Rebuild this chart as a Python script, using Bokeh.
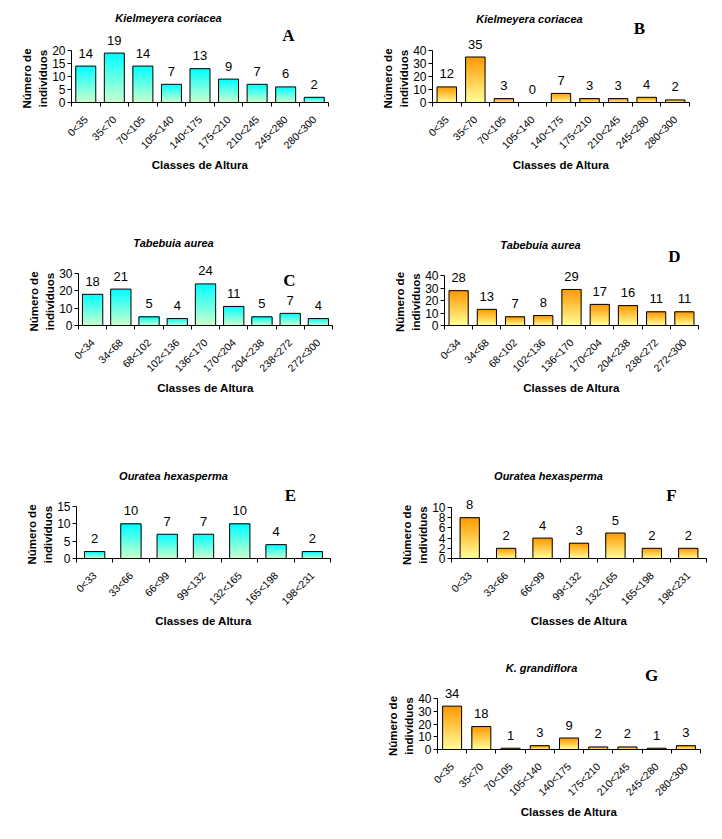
import numpy as np
from bokeh.plotting import figure
from bokeh.models import FixedTicker, ColumnDataSource, LabelSet, Label, Range1d, Spacer, Title
from bokeh.layouts import column, row
from bokeh.core.properties import value
from bokeh.embed import file_html
from bokeh.resources import INLINE

# ---------------- data ----------------
classes_35 = ["0<35", "35<70", "70<105", "105<140", "140<175", "175<210", "210<245", "245<280", "280<300"]
classes_34 = ["0<34", "34<68", "68<102", "102<136", "136<170", "170<204", "204<238", "238<272", "272<300"]
classes_33 = ["0<33", "33<66", "66<99", "99<132", "132<165", "165<198", "198<231"]

vals_A = [14, 19, 14, 7, 13, 9, 7, 6, 2]
vals_B = [12, 35, 3, 0, 7, 3, 3, 4, 2]
vals_C = [18, 21, 5, 4, 24, 11, 5, 7, 4]
vals_D = [28, 13, 7, 8, 29, 17, 16, 11, 11]
vals_E = [2, 10, 7, 7, 10, 4, 2]
vals_F = [8, 2, 4, 3, 5, 2, 2]
vals_G = [34, 18, 1, 3, 9, 2, 2, 1, 3]

yticks_A = [0, 5, 10, 15, 20]
yticks_B = [0, 10, 20, 30, 40]
yticks_C = [0, 10, 20, 30]
yticks_D = [0, 10, 20, 30, 40]
yticks_E = [0, 5, 10, 15]
yticks_F = [0, 2, 4, 6, 8, 10]
yticks_G = [0, 10, 20, 30, 40]

title_K = "Kielmeyera coriacea"
title_T = "Tabebuia aurea"
title_O = "Ouratea hexasperma"
title_G = "K. grandiflora"

x_label = "Classes de Altura"
y_label_1 = "Número de"
y_label_2 = "indivíduos"

# ---------------- styles / layout ----------------
CYAN = ((0x00, 0xFF, 0xFF), (0xCC, 0xFF, 0xCC))     # top, bottom
ORANGE = ((0xFF, 0x99, 0x00), (0xFF, 0xFF, 0x99))
FONT = "Liberation Sans"
SERIF = "Liberation Serif"
NSLICE = 30
YLAB_SIZE = 11.5
YLAB_LEN = {y_label_1: 5.223 * YLAB_SIZE, y_label_2: 5.001 * YLAB_SIZE}   # text lengths in px

panels = [
    dict(letter="A", title=title_K, cats=classes_35, vals=vals_A, yt=yticks_A, col=CYAN,
         cell=(0, 0, 361, 210), box=(71, 328, 50, 102), tpos=(168, 17), lpos=(288, 35), bw=0.70),
    dict(letter="B", title=title_K, cats=classes_35, vals=vals_B, yt=yticks_B, col=ORANGE,
         cell=(361, 0, 720, 210), box=(432, 689, 50, 102), tpos=(529, 18), lpos=(639, 28), bw=0.68),
    dict(letter="C", title=title_T, cats=classes_34, vals=vals_C, yt=yticks_C, col=CYAN,
         cell=(0, 210, 361, 455), box=(78, 332, 273, 325), tpos=(173, 242), lpos=(289, 280), bw=0.72),
    dict(letter="D", title=title_T, cats=classes_34, vals=vals_D, yt=yticks_D, col=ORANGE,
         cell=(361, 210, 720, 455), box=(444, 698, 277, 328), tpos=(540, 245), lpos=(674, 257), bw=0.68),
    dict(letter="E", title=title_O, cats=classes_33, vals=vals_E, yt=yticks_E, col=CYAN,
         cell=(0, 455, 361, 650), box=(76, 330, 506, 558), tpos=(173, 475), lpos=(290, 495), bw=0.56),
    dict(letter="F", title=title_O, cats=classes_33, vals=vals_F, yt=yticks_F, col=ORANGE,
         cell=(361, 455, 720, 650), box=(451, 706, 507, 558), tpos=(548, 475), lpos=(671, 495), bw=0.53),
    dict(letter="G", title=title_G, cats=classes_35, vals=vals_G, yt=yticks_G, col=ORANGE,
         cell=(361, 650, 720, 835), box=(437, 700, 698, 749), tpos=(541, 667), lpos=(651, 675), bw=0.65),
]


def hexcol(c):
    return "#%02x%02x%02x" % tuple(int(round(v)) for v in c)


def make_panel(cfg):
    cx0, cy0, cx1, cy1 = cfg["cell"]
    l, r, t, b = cfg["box"]
    W, H = cx1 - cx0, cy1 - cy0
    mbl, mbr, mbb = l - cx0, cx1 - r, cy1 - b
    cats, vals, yt = cfg["cats"], cfg["vals"], cfg["yt"]
    n = len(cats)
    ymax = yt[-1]
    yend = ymax * (b - cy0) / (b - t)   # frame reaches the top of the cell

    p = figure(width=W, height=H, x_range=Range1d(0.5, n + 0.5), y_range=Range1d(0, yend),
               output_backend="svg", toolbar_location=None, title=None,
               min_border_left=mbl, min_border_right=mbr, min_border_top=0, min_border_bottom=mbb)
    p.outline_line_color = None
    p.xgrid.visible = False
    p.ygrid.visible = False
    p.background_fill_color = "white"
    p.border_fill_color = "white"

    def X(px):
        return 0.5 + (px - l) / (r - l) * n

    def Y(py):
        return (b - py) / (b - t) * ymax

    # gradient bars built from the values (each slice runs up to the bar top, drawn bottom first)
    top_c, bot_c = np.array(cfg["col"][0], float), np.array(cfg["col"][1], float)
    xs, bots, tops, cols = [], [], [], []
    for k in range(NSLICE):
        fm = (k + 0.5) / NSLICE
        for i, v in enumerate(vals):
            xs.append(i + 1)
            bots.append(v * k / NSLICE)
            tops.append(v)
            cols.append(hexcol(bot_c + (top_c - bot_c) * fm))
    p.vbar(x=xs, bottom=bots, top=tops, width=cfg["bw"], fill_color=cols, line_color=None)
    src = ColumnDataSource(dict(x=list(range(1, n + 1)), y=vals, txt=[str(v) for v in vals]))
    p.vbar(x="x", top="y", bottom=0, width=cfg["bw"], source=src, fill_color=None,
           line_color="black", line_width=1)

    p.add_layout(LabelSet(x="x", y="y", text="txt", source=src, y_offset=13,
                          text_align="center", text_baseline="middle",
                          text_font=value(FONT), text_font_size=value("13px"), text_color="black"))

    # axes
    xa = p.xaxis[0]
    xa.ticker = FixedTicker(ticks=list(range(1, n + 1)), minor_ticks=[i + 0.5 for i in range(n + 1)])
    xa.major_label_overrides = {i + 1: c for i, c in enumerate(cats)}
    xa.major_label_orientation = float(np.pi / 4)
    xa.major_tick_in = 0
    xa.major_tick_out = 0
    xa.minor_tick_in = 0
    xa.minor_tick_out = 4
    xa.minor_tick_line_color = "black"
    xa.axis_line_color = "black"
    xa.major_label_text_font = FONT
    xa.major_label_text_font_size = "10.5px"
    xa.major_label_text_color = "black"
    xa.major_label_standoff = 11
    xa.axis_label = x_label
    xa.axis_label_text_font = FONT
    xa.axis_label_text_font_style = "bold"
    xa.axis_label_text_font_size = "11.5px"
    xa.axis_label_text_color = "black"
    xa.axis_label_standoff = 1

    ya = p.yaxis[0]
    ya.bounds = (0, ymax)
    ya.ticker = FixedTicker(ticks=yt, minor_ticks=[])
    ya.major_tick_in = 0
    ya.major_tick_out = 4
    ya.major_tick_line_color = "black"
    ya.axis_line_color = "black"
    ya.major_label_text_font = FONT
    ya.major_label_text_font_size = "12px"
    ya.major_label_text_color = "black"
    ya.major_label_standoff = 2

    # two-line y label, centred on the 0..max part of the axis
    centre = (t + b) / 2 + 2
    for txt in (y_label_2, y_label_1):
        off = b - (centre + YLAB_LEN[txt] / 2)
        p.add_layout(Title(text=txt, align="left", offset=off, standoff=2,
                           text_font=FONT, text_font_style="bold",
                           text_font_size="%gpx" % YLAB_SIZE, text_color="black"), "left")

    tx, ty = cfg["tpos"]
    p.add_layout(Label(x=X(tx), y=Y(ty), text=cfg["title"], text_align="center", text_baseline="middle",
                       text_font=FONT, text_font_style="bold italic", text_font_size="11px",
                       text_color="black"))
    lx, ly = cfg["lpos"]
    p.add_layout(Label(x=X(lx), y=Y(ly), text=cfg["letter"], text_align="center", text_baseline="middle",
                       text_font=SERIF, text_font_style="bold", text_font_size="17px",
                       text_color="black"))
    return p


figs = [make_panel(c) for c in panels]
layout = column(
    row(figs[0], figs[1]),
    row(figs[2], figs[3]),
    row(figs[4], figs[5]),
    row(Spacer(width=361, height=185), figs[6]),
)

open("out.html", "w").write(file_html(layout, INLINE))
